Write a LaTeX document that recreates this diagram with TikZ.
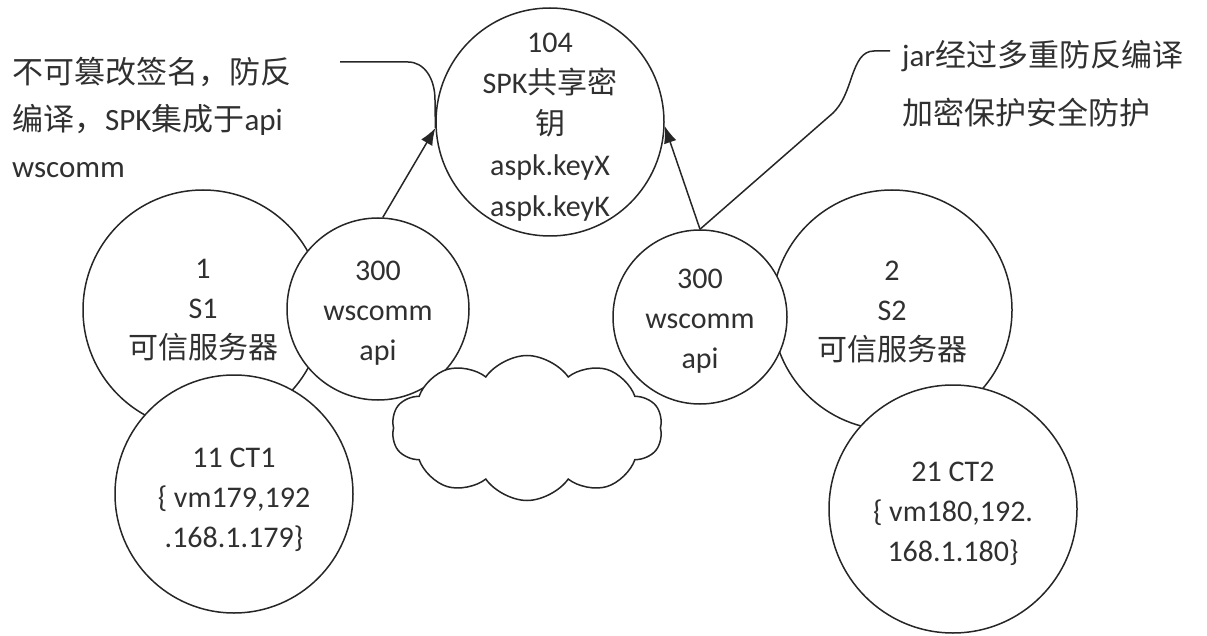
\documentclass[tikz,border=0pt]{standalone}
\usepackage{fontspec}
\setmainfont{Carlito}
\newfontfamily\cjk{Noto Sans CJK SC}
\usetikzlibrary{shapes.symbols,arrows.meta}

\definecolor{ink}{HTML}{262626}
\definecolor{txt}{HTML}{303030}

\tikzset{
  ball/.style={circle, draw=ink, line width=1.5pt, fill=white, inner sep=0pt},
  label text/.style={text=txt, align=center, inner sep=0pt, font=\fontsize{30}{40}\selectfont},
  link/.style={draw=ink, line width=1.5pt},
  tip/.style={-{Latex[length=17pt,width=13pt]}},
  note/.style={text=txt, align=left, inner sep=0pt}
}

\begin{document}
\begin{tikzpicture}[x=1pt,y=-1pt]
\useasboundingbox (0,0) rectangle (1207,636);

% left server group
\node[ball, minimum size=240pt] (s1) at (203,310) {};
\node[ball, minimum size=182pt] (w1) at (378,309) {};
\node[ball, minimum size=238pt] (ct1) at (234,494) {};

% right server group
\node[ball, minimum size=240pt] (s2) at (892,310) {};
\node[ball, minimum size=174pt] (w2) at (700,317) {};
\node[ball, minimum size=248pt] (ct2) at (953,509) {};

% shared key
\node[ball, minimum size=228pt] (spk) at (550,122) {};

% network
\node[cloud, cloud ignores aspect, draw=ink, line width=1.5pt, fill=white, cloud puffs=10,
      cloud puff arc=110, minimum width=271pt, minimum height=145pt, inner sep=0pt] (net) at (527,428) {};

% circle captions
\node[label text] (s1t) at (s1) {1\\S1\\{\cjk 可信服务器}};
\node[label text] (w1t) at ([yshift=-4pt]w1.center) {300\\wscomm\\api};
\node[label text] (ct1t) at ([yshift=-6pt]ct1.center) {11 CT1\\\{ vm179,192\\.168.1.179\}};
\node[label text] (s2t) at ([yshift=-2pt]s2.center) {2\\S2\\{\cjk 可信服务器}};
\node[label text] (w2t) at ([yshift=-4pt]w2.center) {300\\wscomm\\api};
\node[label text] (ct2t) at ([yshift=-5pt]ct2.center) {21 CT2\\\{ vm180,192.\\168.1.180\}};
\node[label text, font=\fontsize{30}{41}\selectfont] (spkt) at ([yshift=-5pt]spk.center)
  {104\\SPK{\cjk 共享密}\\{\cjk 钥}\\aspk.keyX\\aspk.keyK};

% arrows to the shared key
\draw[link, tip] (w1.87) -- (spk.183);
\draw[link, tip] (w2.north) -- (spk.-2);

% callouts
\coordinate (c1) at (340,62);
\draw[link] (c1) -- (408,62) .. controls (424,62) and (435,78) .. (435,100) -- (spk.183);
\coordinate (c2) at (890,51);
\draw[link] (c2) -- (874,51) .. controls (862,51) and (857,62) .. (852,76)
  .. controls (846,94) and (842,104) .. (833,113) -- (w2.north);

\node[note, anchor=west, font=\fontsize{31}{47}\selectfont] (n1) at (12,117)
  {{\cjk 不可篡改签名，防反}\\{\cjk 编译，}SPK{\cjk 集成于}api\\wscomm};
\node[note, anchor=west, font=\fontsize{31}{58}\selectfont] (n2) at (902,84)
  {jar{\cjk 经过多重防反编译}\\{\cjk 加密保护安全防护}};
\end{tikzpicture}
\end{document}
